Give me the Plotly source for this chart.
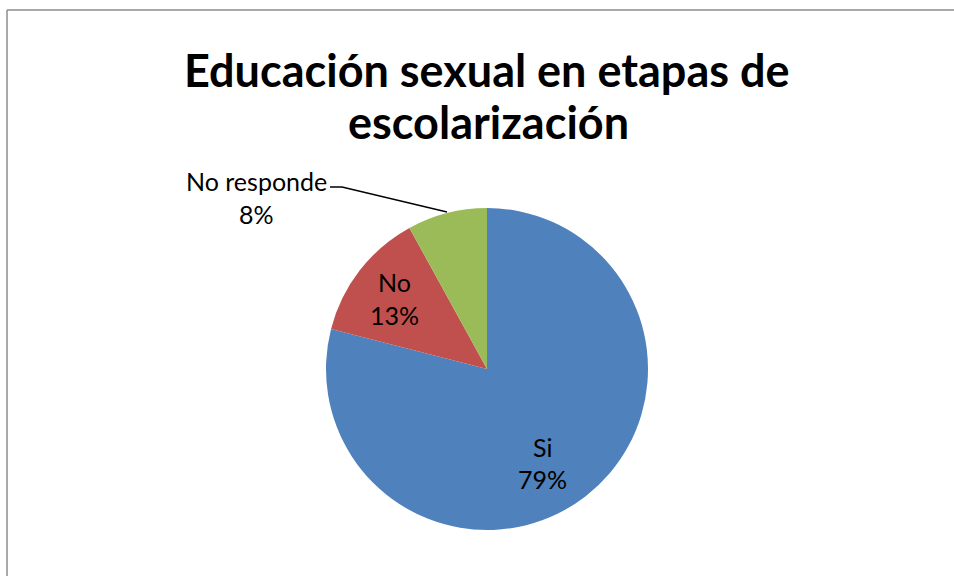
import plotly.graph_objects as go

categories = ["Si", "No", "No responde"]
values = [79, 13, 8]
pct_labels = ["79%", "13%", "8%"]
colors = ["#4F81BD", "#C0504D", "#9BBB59"]
title_lines = ["Educación sexual en etapas de", "escolarización"]

W, H = 954, 576
def px(x):
    return x / W
def py(y):
    return 1 - y / H

fig = go.Figure(go.Pie(
    labels=categories,
    values=values,
    sort=False,
    direction="clockwise",
    rotation=0,
    marker=dict(colors=colors, line=dict(width=0)),
    textinfo="none",
    hoverinfo="label+percent",
    showlegend=False,
    domain=dict(x=[px(326), px(648)], y=[py(530), py(208)]),
))

font_label = dict(family="Lato, Carlito, Calibri, sans-serif", size=25, color="black")
font_title = dict(family="Lato, Carlito, Calibri, sans-serif", size=45, color="black")

ann = []
# Title
ann.append(dict(text="<b>%s</b>" % title_lines[0], x=px(487), y=py(70), xref="paper", yref="paper",
                showarrow=False, font=font_title, xanchor="center", yanchor="middle"))
ann.append(dict(text="<b>%s</b>" % title_lines[1], x=px(488), y=py(122), xref="paper", yref="paper",
                showarrow=False, font=font_title, xanchor="center", yanchor="middle"))
# Data labels: (category line, percent line) centers
label_pos = {
    "Si": ((542, 447), (542, 479)),
    "No": ((394, 282), (394, 315)),
    "No responde": ((256, 181), (256, 214)),
}
for cat, pct in zip(categories, pct_labels):
    (x1, y1), (x2, y2) = label_pos[cat]
    ann.append(dict(text=cat, x=px(x1), y=py(y1), xref="paper", yref="paper", showarrow=False,
                    font=font_label, xanchor="center", yanchor="middle"))
    ann.append(dict(text=pct, x=px(x2), y=py(y2), xref="paper", yref="paper", showarrow=False,
                    font=font_label, xanchor="center", yanchor="middle"))

shapes = [
    # chart frame (top and left edges visible)
    dict(type="line", xref="paper", yref="paper", x0=px(7), y0=py(10), x1=px(980), y1=py(10),
         line=dict(color="#8C8C8C", width=1.5)),
    dict(type="line", xref="paper", yref="paper", x0=px(7), y0=py(10), x1=px(7), y1=py(600),
         line=dict(color="#8C8C8C", width=1.5)),
    # leader line
    dict(type="path", xref="paper", yref="paper",
         path="M %f,%f L %f,%f L %f,%f" % (px(330), py(187), px(342), py(187), px(447), py(212)),
         line=dict(color="black", width=1.3)),
]

fig.update_layout(
    width=W, height=H,
    margin=dict(l=0, r=0, t=0, b=0),
    paper_bgcolor="white", plot_bgcolor="white",
    annotations=ann, shapes=shapes,
)

fig.write_html("out.html", config={"displayModeBar": False},
               post_script="document.body.style.margin='0';")
